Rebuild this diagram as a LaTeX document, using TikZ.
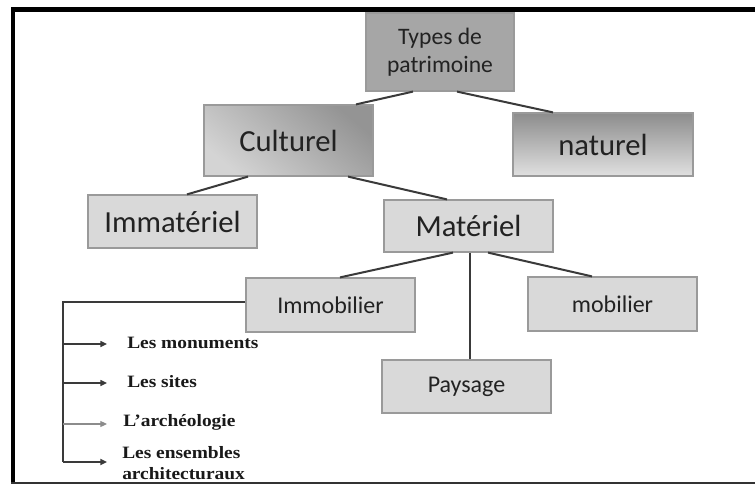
\documentclass[tikz,border=0pt]{standalone}
\usepackage{fontspec}
\setmainfont{Carlito}
\newfontfamily\lesfont[FakeStretch=1.12]{Liberation Serif}
\usetikzlibrary{arrows.meta,calc}
\definecolor{boxline}{HTML}{9A9A9A}
\definecolor{boxfill}{HTML}{D9D9D9}
\definecolor{topfill}{HTML}{A6A6A6}
\definecolor{conn}{HTML}{3A3A3A}
\definecolor{txt}{HTML}{222222}
\begin{document}
\begin{tikzpicture}[x=0.75pt,y=-0.75pt,
  box/.style={rectangle,draw=boxline,line width=0.9pt,inner sep=0pt,text=txt,align=center},
  lowbox/.style={box,fill=boxfill,minimum width=126.75pt},
  bigtxt/.style={font=\fontsize{23}{27}\selectfont},
  midtxt/.style={font=\fontsize{18}{21}\selectfont},
  conline/.style={draw=conn,line width=1.5pt},
  brk/.style={draw=conn,line width=1.5pt},
  arr/.style={-{Triangle[length=5pt,width=4.5pt]}},
  lab/.style={anchor=west,inner sep=0pt,text=black!90,font=\lesfont\bfseries\fontsize{13}{16}\selectfont,align=left}]
\useasboundingbox (0,0) rectangle (755,484);
\fill[white] (0,0) rectangle (755,484);
% frame
\draw[line width=3.4pt,black] (13,8) -- (13,484);
\draw[line width=3.4pt,black] (11,9.7) -- (755,9.7);
\draw[line width=1.5pt,black!80] (11,483) -- (755,483);
% nodes
\node[box,fill=topfill,minimum width=111pt,minimum height=58.5pt,font=\fontsize{17.7}{21}\selectfont] (types) at (440,52) {Types de\\patrimoine};
\node[box,bigtxt,minimum width=126.75pt,minimum height=53.25pt,shading=axis,top color=black!42,bottom color=black!17,shading angle=-40] (cult) at (288.5,140.5) {Culturel};
\node[box,bigtxt,minimum width=135pt,minimum height=47.25pt,top color=black!45,bottom color=black!12] (nat) at (603,144.5) {naturel};
\node[lowbox,bigtxt,minimum height=39.75pt] (imma) at (172.5,221.5) {Immatériel};
\node[lowbox,bigtxt,minimum height=39pt] (mat) at (468.5,226) {Matériel};
\node[lowbox,midtxt,minimum height=40.5pt] (immo) at (330.5,305) {Immobilier};
\node[lowbox,midtxt,minimum height=40.5pt] (mob) at (612.5,304) {mobilier};
\node[lowbox,midtxt,minimum height=39.75pt] (pay) at (466.5,386.5) {Paysage};
% connectors
\draw[conline] ($(types.south)+(-27,0)$) -- ($(cult.north)+(67.5,0)$);
\draw[conline] ($(types.south)+(17,0)$) -- ($(nat.north)+(-50,0)$);
\draw[conline] ($(cult.south)+(-40.5,0)$) -- ($(imma.north)+(14.5,0)$);
\draw[conline] ($(cult.south)+(59.5,0)$) -- ($(mat.north)+(-21.5,0)$);
\draw[conline] ($(mat.south)+(-15.5,0)$) -- ($(immo.north)+(9.5,0)$);
\draw[conline] ($(mat.south)+(1.5,0)$) -- ($(pay.north)+(3.5,0)$);
\draw[conline] ($(mat.south)+(19.5,0)$) -- ($(mob.north)+(-20.5,0)$);
% bracket
\coordinate (ctop) at (63,302);
\coordinate (cbot) at (63,462);
\coordinate (a1) at (63,344);
\coordinate (a2) at (63,383);
\coordinate (a3) at (63,424);
\node[lab] (l1) at (127,343) {Les monuments};
\node[lab] (l2) at (127,382) {Les sites};
\node[lab] (l3) at (123,422) {L’archéologie};
\node[lab] (l4) at (122,463) {Les ensembles\\architecturaux};
\draw[brk] (immo.west |- ctop) -- (ctop) -- (cbot);
\draw[brk,arr] (cbot) -- (107,462);
\draw[draw=conn,line width=1pt,arr] (a1) -- (107,344);
\draw[draw=conn,line width=1pt,arr] (a2) -- (107,383);
\draw[draw=black!45,line width=0.8pt,arr] (a3) -- (107,424);
\end{tikzpicture}
\end{document}
